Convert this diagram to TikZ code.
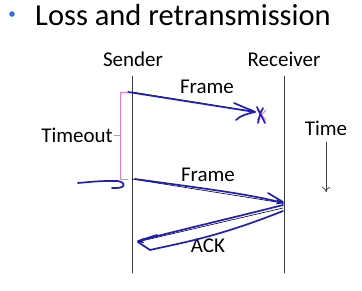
\documentclass[tikz,border=0pt]{standalone}
\usepackage{fontspec}
\setmainfont{Carlito}
\usetikzlibrary{arrows.meta}

\definecolor{penblue}{RGB}{30,30,190}
\definecolor{bulletblue}{RGB}{50,110,220}
\definecolor{timeoutpink}{RGB}{238,120,205}
\definecolor{linegray}{RGB}{60,60,60}

\tikzset{
  lifeline/.style={linegray,line width=0.9pt},
  msg/.style={black,line width=0.6pt,-{Stealth[length=7pt,width=5pt]}},
  pen/.style={penblue,line width=1.7pt},
  brace/.style={timeoutpink,line width=0.9pt},
  lbl/.style={inner sep=1pt}
}

\begin{document}
\begin{tikzpicture}[x=1pt,y=-1pt,line join=round,line cap=round,font=\fontsize{21}{23}\selectfont]
  \useasboundingbox (0,0) rectangle (362,291);

  % ---- titolo ----------------------------------------------------------------
  \fill[bulletblue] (12,14) circle (2.8);
  \node[anchor=west,lbl,font=\fontsize{30.5}{34}\selectfont] (title) at (34,15) {Loss and retransmission};

  % ---- le due linee di vita --------------------------------------------------
  \node[lbl] (snd) at (133,59) {Sender};
  \node[lbl] (rcv) at (284,59) {Receiver};
  \coordinate (sndTop) at (132,76);
  \coordinate (sndBot) at (132,273);
  \coordinate (rcvTop) at (284,76);
  \coordinate (rcvBot) at (284,273);
  \draw[lifeline] (sndTop) -- (sndBot);
  \draw[lifeline] (rcvTop) -- (rcvBot);

  % ---- primo frame, perso ----------------------------------------------------
  \coordinate (f1s) at (132,92);
  \coordinate (f1e) at (256,112);
  \draw[msg] (f1s) -- (f1e);
  \node[lbl] (frameA) at (207,87) {Frame};
  \draw[brace] (257,110) -- (266,120) (266,110) -- (257,120);
  \draw[pen] (128,92) -- (255,112);
  \draw[pen] (234,103) -- (255,112) .. controls (246,114) and (240,116) .. (236,120);
  \draw[pen] (257,107) -- (265,123) (263,108) .. controls (260,114) .. (258,123);

  % ---- timeout ---------------------------------------------------------------
  \draw[brace] (128,92) -- (120,92) -- (120,179) -- (128,179);
  \draw[brace] (120,135) -- (114,135);
  \node[lbl,anchor=east] (tout) at (114,135) {Timeout};

  % ---- ritrasmissione --------------------------------------------------------
  \coordinate (f2s) at (132,179);
  \coordinate (f2e) at (283,203);
  \draw[msg] (f2s) -- (f2e);
  \node[lbl] (frameB) at (208,175) {Frame};
  \draw[pen] (78,183) .. controls (100,181) .. (118,181)
             .. controls (127,183) and (126,189) .. (112,188);
  \draw[pen] (135,179) .. controls (200,188) and (250,194) .. (283,203)
             (268,193) -- (283,202);

  % ---- ack -------------------------------------------------------------------
  \coordinate (a1s) at (283,208);
  \coordinate (a1e) at (137,242);
  \draw[msg] (a1s) -- (a1e);
  \node[lbl] (ack) at (208,246) {ACK};
  \draw[pen] (283,205) .. controls (240,216) and (180,230) .. (138,241)
             -- (157,235);
  \draw[pen] (138,242) -- (150,250) .. controls (180,243) and (215,238) .. (283,211);

  % ---- asse del tempo --------------------------------------------------------
  \node[lbl] (time) at (326,128) {Time};
  \coordinate (timeStart) at (326,142);
  \coordinate (timeEnd) at (326,192);
  \draw[linegray,line width=0.7pt,-{To[length=5pt,width=8pt]}] (timeStart) -- (timeEnd);

\end{tikzpicture}
\end{document}
